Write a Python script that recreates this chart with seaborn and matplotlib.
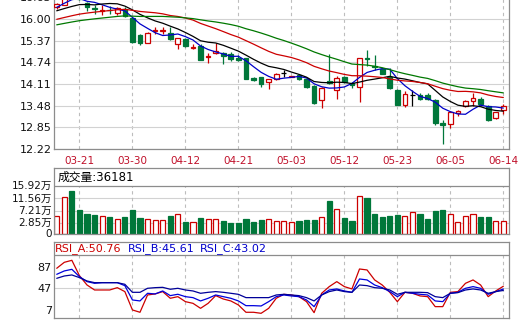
import numpy as np
import pandas as pd
import seaborn as sns
import matplotlib.pyplot as plt
from matplotlib.transforms import blended_transform_factory

# ---------------------------------------------------------------------------
# data (2017 daily bars)
# ---------------------------------------------------------------------------
dates = ["03-16", "03-17", "03-20", "03-21", "03-22", "03-23", "03-24", "03-27", "03-28", "03-29",
         "03-30", "03-31", "04-05", "04-06", "04-07", "04-10", "04-11", "04-12", "04-13", "04-14",
         "04-17", "04-18", "04-19", "04-20", "04-21", "04-24", "04-25", "04-26", "04-27", "04-28",
         "05-02", "05-03", "05-04", "05-05", "05-08", "05-09", "05-10", "05-11", "05-12", "05-15",
         "05-16", "05-17", "05-18", "05-19", "05-22", "05-23", "05-24", "05-25", "05-26", "05-31",
         "06-01", "06-02", "06-05", "06-06", "06-07", "06-08", "06-09", "06-12", "06-13", "06-14"]
label_dates = ["03-21", "03-30", "04-12", "04-21", "05-03", "05-12", "05-23", "06-05", "06-14"]

open_ = [16.34, 16.42, 16.85, 16.68, 16.46, 16.31, 16.22, 16.27, 16.17, 16.28,
         16.02, 15.53, 15.31, 15.66, 15.66, 15.60, 15.27, 15.41, 15.17, 15.22,
         14.89, 15.00, 15.02, 14.98, 14.88, 14.86, 14.28, 14.30, 14.18, 14.25,
         14.42, 14.31, 14.37, 14.25, 14.05, 13.65, 14.19, 13.94, 14.30, 14.15,
         14.03, 14.88, 14.63, 14.55, 14.30, 13.94, 13.50, 13.79, 13.79, 13.80,
         13.65, 12.98, 12.95, 13.26, 13.47, 13.63, 13.67, 13.47, 13.11, 13.35]
high = [16.47, 16.70, 16.95, 16.75, 16.49, 16.42, 16.40, 16.38, 16.36, 16.36,
        16.04, 15.56, 15.62, 15.78, 15.77, 15.78, 15.46, 15.44, 15.26, 15.27,
        15.00, 15.31, 15.04, 15.05, 14.94, 14.88, 14.31, 14.32, 14.27, 14.43,
        14.52, 14.35, 14.39, 14.27, 14.07, 14.01, 14.98, 14.35, 14.33, 14.17,
        14.88, 15.10, 14.95, 14.58, 14.57, 13.96, 13.90, 13.94, 13.86, 13.85,
        13.67, 13.05, 13.33, 13.36, 13.65, 13.86, 13.72, 13.49, 13.31, 13.53]
low = [16.30, 16.40, 16.57, 16.56, 16.24, 16.14, 16.13, 16.14, 16.12, 16.06,
       15.30, 15.24, 15.30, 15.56, 15.57, 15.40, 15.12, 15.18, 15.14, 14.80,
       14.72, 14.99, 14.68, 14.78, 14.78, 14.25, 14.19, 14.03, 13.96, 14.22,
       14.32, 14.30, 14.23, 13.98, 13.54, 13.40, 14.10, 13.67, 14.15, 13.99,
       13.60, 14.62, 14.52, 14.39, 13.97, 13.49, 13.45, 13.48, 13.64, 13.65,
       12.92, 12.37, 12.84, 13.19, 13.45, 13.47, 13.46, 13.02, 13.09, 13.25]
close = [16.44, 16.60, 16.62, 16.58, 16.34, 16.28, 16.25, 16.25, 16.31, 16.09,
         15.34, 15.30, 15.60, 15.68, 15.68, 15.42, 15.44, 15.22, 15.19, 14.81,
         14.91, 15.08, 14.93, 14.84, 14.82, 14.26, 14.22, 14.11, 14.25, 14.40,
         14.42, 14.33, 14.25, 14.03, 13.55, 13.99, 14.13, 14.28, 14.17, 14.07,
         14.86, 14.85, 14.60, 14.41, 13.98, 13.50, 13.81, 13.79, 13.67, 13.67,
         12.97, 12.93, 13.29, 13.33, 13.63, 13.70, 13.53, 13.06, 13.29, 13.47]
# closes of the 29 sessions before 03-16 (only feed the moving averages)
prior_close = [15.35, 15.40, 15.45, 15.50, 15.50, 15.55, 15.55, 15.60, 15.60, 15.60,
               15.55, 15.60, 15.65, 15.70, 15.75, 15.78, 15.80, 15.85, 15.86, 15.90,
               15.95, 16.00, 16.05, 16.30, 16.40, 16.00, 16.10, 16.40, 16.75]

# volume, 万手
volume = [5.40, 11.96, 14.18, 7.51, 6.11, 5.75, 5.40, 5.05, 4.35, 5.05,
          7.51, 4.70, 4.25, 4.00, 4.00, 5.51, 6.11, 3.30, 3.30, 4.70,
          4.35, 4.25, 3.65, 2.95, 2.95, 4.35, 3.30, 4.00, 4.35, 3.65,
          3.65, 3.30, 3.75, 4.00, 4.00, 5.05, 10.67, 7.75, 4.70, 3.65,
          12.42, 11.72, 6.11, 5.05, 5.40, 5.75, 5.40, 6.70, 6.11, 4.35,
          7.16, 7.51, 6.11, 3.30, 5.40, 6.11, 5.05, 5.05, 3.75, 3.6181]

rsi_a = [83.9, 94.9, 98.6, 70.3, 53.1, 43.9, 43.9, 43.9, 48.2, 40.9,
         7.1, 2.8, 34.7, 36.6, 40.9, 28.6, 31.6, 22.4, 19.3, 10.1,
         19.3, 33.5, 27.3, 23.7, 16.3, 2.8, 2.8, 0.9, 10.1, 28.6,
         35.9, 34.7, 31.6, 22.4, 2.1, 37.8, 50.1, 59.3, 50.1, 45.8,
         82.6, 80.8, 62.4, 53.1, 39.6, 22.4, 39.6, 37.8, 32.9, 31.6,
         13.2, 13.2, 39.6, 40.9, 56.2, 62.4, 53.1, 31.6, 42.1, 50.76]
rsi_b = [72.8, 79.0, 82.0, 68.5, 59.3, 56.2, 57.4, 57.4, 57.4, 51.9,
         25.5, 23.7, 37.8, 36.6, 42.1, 33.5, 36.0, 31.6, 29.8, 23.7,
         28.6, 34.7, 31.6, 28.6, 23.7, 15.0, 15.0, 14.4, 22.4, 31.6,
         34.7, 32.9, 31.6, 25.5, 13.2, 34.7, 43.9, 45.8, 42.1, 39.6,
         64.2, 62.4, 53.1, 48.2, 40.9, 31.6, 39.6, 37.8, 36.0, 34.7,
         23.7, 22.4, 37.8, 39.6, 47.0, 50.1, 47.0, 36.0, 40.9, 45.61]
rsi_c = [65.4, 69.7, 71.6, 66.7, 60.5, 57.4, 57.4, 57.4, 57.4, 54.4,
         39.6, 39.6, 47.0, 48.2, 48.8, 45.2, 47.0, 43.9, 42.1, 37.8,
         39.6, 40.9, 39.6, 37.8, 35.9, 29.8, 29.8, 29.8, 29.8, 34.7,
         35.9, 34.7, 33.5, 29.8, 23.7, 34.7, 40.9, 43.9, 40.9, 39.6,
         53.1, 51.9, 48.2, 47.0, 43.9, 35.9, 39.6, 39.6, 39.6, 39.0,
         31.6, 29.8, 37.8, 39.0, 43.9, 45.8, 43.9, 37.8, 40.9, 43.02]

price_ticks = [12.22, 12.85, 13.48, 14.11, 14.74, 15.37, 16.00, 16.63]
vol_ticks = [2.85, 7.21, 11.56, 15.92]
rsi_ticks = [7, 47, 87]

# ---------------------------------------------------------------------------
# derived series
# ---------------------------------------------------------------------------
n = len(dates)
x = np.arange(n)
o, h, l, c = map(np.array, (open_, high, low, close))
full_close = pd.Series(prior_close + close)
ma = {k: full_close.rolling(k).mean().to_numpy()[-n:] for k in (5, 10, 20, 30)}
tick_idx = [dates.index(d) for d in label_dates]

RED = "#cc0000"
GREEN = "#00773a"
FRAME = "#8c8c8c"
GRID = "#d2d2d2"
VGRID = "#bdbdbd"

sns.set_theme(style="white")
plt.rcParams["font.family"] = ["DejaVu Sans", "Noto Sans CJK SC"]
plt.rcParams["font.size"] = 8

W, H = 528, 324
fig = plt.figure(figsize=(W / 100, H / 100), dpi=100)


def box(left, top, right, bottom):
    return [left / W, 1 - bottom / H, (right - left) / W, (bottom - top) / H]


ax_k = fig.add_axes(box(54, -3, 509, 149))
ax_v = fig.add_axes(box(54, 168, 509, 234))
ax_r = fig.add_axes(box(54, 242, 509, 318))

XLIM = (-0.36, 59.75)
for ax in (ax_k, ax_v, ax_r):
    ax.set_xlim(*XLIM)
    for sp in ax.spines.values():
        sp.set_color(FRAME)
        sp.set_linewidth(0.9)
    ax.tick_params(length=0, colors="#111111", labelsize=8)

# ---------------------------------------------------------------------------
# price panel: candles + moving averages
# ---------------------------------------------------------------------------
ax_k.set_ylim(12.22, 16.64)
ax_k.set_yticks(price_ticks)
ax_k.set_yticklabels([f"{v:.2f}" for v in price_ticks])
ax_k.tick_params(axis="y", pad=1.5)
ax_k.grid(axis="y", color=GRID, lw=0.8)
ax_k.spines["top"].set_visible(False)
ax_k.vlines(tick_idx, 12.22, 16.64, colors=VGRID, linestyles=(0, (3, 3)), lw=0.8, zorder=0)
ax_k.set_xticks(tick_idx)
ax_k.set_xticklabels(label_dates, color="#c0102a", fontsize=7.5)
ax_k.tick_params(axis="x", pad=5)

up = c > o
down = c < o
flat = c == o
cols = np.where(up, RED, np.where(down, GREEN, "black"))
ax_k.vlines(x, l, h, colors=cols, lw=0.9, zorder=2)
bw = 0.62
ax_k.bar(x[up], (c - o)[up], bottom=o[up], width=bw, facecolor="white",
         edgecolor=RED, linewidth=0.9, zorder=3)
ax_k.bar(x[down], (c - o)[down], bottom=o[down], width=bw, facecolor=GREEN,
         edgecolor=GREEN, linewidth=0.9, zorder=3)
ax_k.hlines(o[flat], x[flat] - bw / 2, x[flat] + bw / 2, colors="black", lw=0.9, zorder=3)

ma_colors = {5: "#0000c8", 10: "#000000", 20: "#cc0000", 30: "#007800"}
for k, col in ma_colors.items():
    sns.lineplot(x=x, y=ma[k], ax=ax_k, color=col, lw=0.9, zorder=4, legend=False)
ax_k.set_xlim(*XLIM)
ax_k.set_ylim(12.22, 16.64)

# ---------------------------------------------------------------------------
# volume panel
# ---------------------------------------------------------------------------
VB, VSEP, VTOP = -0.9, 15.92, 22.23
ax_v.set_ylim(VB, VTOP)
ax_v.set_xticks([])
ax_v.set_yticks([])
for v in vol_ticks[:-1]:
    ax_v.axhline(v, color=GRID, lw=0.8, zorder=0)
ax_v.axhline(VSEP, color=FRAME, lw=0.9, zorder=1)
ax_v.vlines(tick_idx, VB, VSEP, colors=VGRID, linestyles=(0, (3, 3)), lw=0.8, zorder=0)
vol = np.array(volume)
vup = c >= o
vw = 0.68
ax_v.bar(x[vup], vol[vup] - VB, bottom=VB, width=vw, facecolor="white",
         edgecolor=RED, linewidth=0.9, zorder=2)
ax_v.bar(x[~vup], vol[~vup] - VB, bottom=VB, width=vw, facecolor=GREEN,
         edgecolor=GREEN, linewidth=0.9, zorder=2)
tr = blended_transform_factory(ax_v.transAxes, ax_v.transData)
ax_v.text(-0.005, VB, "0", transform=tr, ha="right", va="center", fontsize=7.5, color="#111111")
for v in vol_ticks:
    ax_v.text(-0.005, v, f"{v:.2f}万", transform=tr, ha="right", va="center",
              fontsize=7.5, color="#111111")
ax_v.text(0.007, (VSEP + VTOP) / 2, f"成交量:{int(round(volume[-1] * 10000))}",
          transform=tr, ha="left", va="center", fontsize=8.5, color="black")

# ---------------------------------------------------------------------------
# RSI panel
# ---------------------------------------------------------------------------
RB, RSEP, RTOP = -7.75, 108.4, 132.35
ax_r.set_ylim(RB, RTOP)
ax_r.set_xticks([])
ax_r.set_yticks(rsi_ticks)
ax_r.set_yticklabels([str(v) for v in rsi_ticks])
ax_r.tick_params(axis="y", pad=1.5)
ax_r.axhline(47, color=GRID, lw=0.8, zorder=0)
ax_r.axhline(RSEP, color=FRAME, lw=0.9, zorder=1)
ax_r.vlines(tick_idx, RB, RSEP, colors=VGRID, linestyles=(0, (3, 3)), lw=0.8, zorder=0)
rsi_colors = [("RSI_A", rsi_a, "#cc0000"), ("RSI_B", rsi_b, "#0000dd"), ("RSI_C", rsi_c, "#000099")]
for name, vals, col in rsi_colors:
    sns.lineplot(x=x, y=vals, ax=ax_r, color=col, lw=0.9, zorder=3, legend=False)
ax_r.set_xlim(*XLIM)
ax_r.set_ylim(RB, RTOP)

title_x = [55, 128, 200]
for (name, vals, col), px in zip(rsi_colors, title_x):
    fig.text(px / W, 1 - 249 / H, f"{name}:{vals[-1]:.2f}", color=col if name == "RSI_A" else "#0000cc",
             ha="left", va="center", fontsize=8)

for ax in (ax_k, ax_v, ax_r):
    ax.set_xlabel("")
    ax.set_ylabel("")

fig.savefig("out.png", dpi=100)
